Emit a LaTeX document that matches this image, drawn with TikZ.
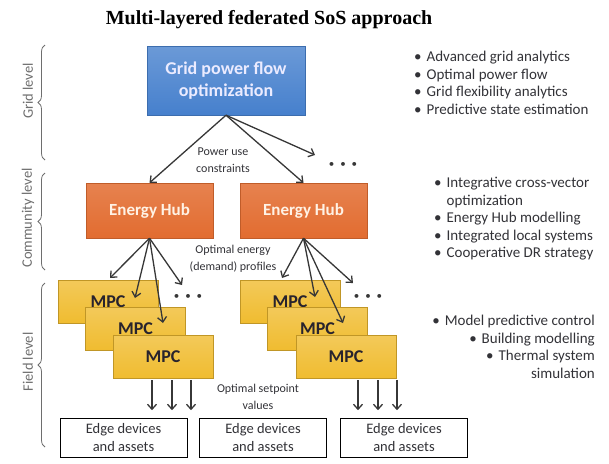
\documentclass[tikz,border=0pt]{standalone}
\usepackage{fontspec}
\setmainfont{Carlito}
\newfontfamily\titlefont{Liberation Serif}
\usepackage{xcolor}
\usepackage{tikz}
\usetikzlibrary{arrows.meta, positioning, decorations.pathreplacing, calc}
\definecolor{gblue}{RGB}{70, 128, 205}
\definecolor{horange}{RGB}{226, 108, 48}
\definecolor{mgold}{RGB}{240, 188, 48}
\definecolor{mtext}{RGB}{40, 35, 45}
\definecolor{tdark}{RGB}{50, 50, 55}
\definecolor{tgray}{RGB}{110, 110, 110}
\definecolor{agray}{RGB}{55, 55, 55}

\begin{document}
\begin{tikzpicture}[x=1pt, y=-1pt,
    gridbox/.style={draw=gblue!85!black, top color=gblue!80!white, bottom color=gblue,
      text=white!92!blue, font=\fontsize{18}{22}\selectfont\bfseries, align=center,
      minimum width=158pt, minimum height=69pt, inner sep=0pt},
    hubbox/.style={draw=horange!85!black, top color=horange!85!white, bottom color=horange,
      text=white!90!orange, font=\fontsize{17}{21}\selectfont\bfseries,
      minimum width=127pt, minimum height=55pt, inner sep=0pt},
    mpcbox/.style={draw=mgold!80!black, top color=mgold!80!white, bottom color=mgold,
      text=mtext, font=\fontsize{18}{21}\selectfont\bfseries,
      minimum width=100pt, minimum height=43pt, inner sep=0pt},
    edgebox/.style={draw=black, fill=white, text=tdark, font=\fontsize{14.5}{18}\selectfont,
      align=center, minimum width=127pt, minimum height=39pt, inner sep=0pt},
    lvl/.style={rotate=90, text=tgray, font=\fontsize{14.5}{16}\selectfont},
    lbl/.style={text=tdark, font=\fontsize{12}{17}\selectfont, align=center},
    notes/.style={text=tdark, font=\fontsize{15}{17.5}\selectfont, inner sep=0pt},
    dots/.style={text=agray, font=\fontsize{11}{11}\selectfont},
    arr/.style={-{Straight Barb[length=5pt, width=9pt]}, agray, line width=1.3pt},
    lvlbrace/.style={decorate, decoration={brace, amplitude=7pt}, tgray, line width=0.8pt}]
  \useasboundingbox (0,0) rectangle (609,463);
  % Title
  \node[font=\titlefont\fontsize{20}{24}\selectfont\bfseries] (title) at (269,20)
    {Multi-layered federated SoS approach};
  % Levels
  \draw[lvlbrace] (45,160) -- (45,45);
  \node[lvl] (lgrid) at (28,91) {Grid level};
  \draw[lvlbrace] (45,270) -- (45,173);
  \node[lvl] (lcomm) at (28,218) {Community level};
  \draw[lvlbrace] (45,447) -- (45,283);
  \node[lvl] (lfield) at (28,362) {Field level};
  % Grid optimization
  \node[gridbox] (grid) at (226,80.5) {Grid power flow\\optimization};
  % Energy hubs
  \node[hubbox] (hub1) at (149.5,210.5) {Energy Hub};
  \node[hubbox] (hub2) at (303.5,210.5) {Energy Hub};
  % MPC stacks
  \node[mpcbox] (m11) at (108,301.5) {MPC};
  \node[mpcbox] (m12) at (135.5,328.5) {MPC};
  \node[mpcbox] (m13) at (163,356.5) {MPC};
  \node[mpcbox] (m21) at (290,301.5) {MPC};
  \node[mpcbox] (m22) at (317.5,328.5) {MPC};
  \node[mpcbox] (m23) at (346,356.5) {MPC};
  % Edge devices
  \node[edgebox] (edge1) at (123.5,437.5) {Edge devices\\and assets};
  \node[edgebox] (edge2) at (263,437.5) {Edge devices\\and assets};
  \node[edgebox] (edge3) at (404,437.5) {Edge devices\\and assets};
  % Arrow ends
  \coordinate (g3) at (315,155);
  \coordinate (l1) at (110,278);
  \coordinate (l2) at (135,298);
  \coordinate (l3) at (163,323);
  \coordinate (l4) at (182,285);
  \coordinate (r1) at (282,278);
  \coordinate (r2) at (315,297);
  \coordinate (r3) at (343,323);
  \coordinate (r4) at (353,283);
  % Grid to hubs
  \draw[arr] (grid.south) -- (hub1.north);
  \draw[arr] (grid.south) -- (hub2.north);
  \draw[arr] (grid.south) -- (g3);
  % Hubs to MPCs
  \foreach \t in {l1,l2,l3,l4}
    \draw[arr] (hub1.south) -- (\t);
  \foreach \t in {r1,r2,r3,r4}
    \draw[arr] (hub2.south) -- (\t);
  % Setpoints
  \foreach \dx in {-11,9,28}
    \draw[arr] ($(m13.south)+(\dx,2)$) -- ($(m13.south)+(\dx,32)$);
  \foreach \dx in {12,32,51}
    \draw[arr] ($(m23.south)+(\dx,2)$) -- ($(m23.south)+(\dx,32)$);
  % More of the same
  \node[dots] (d1) at (343,165) {•\hspace{6pt}•\hspace{6pt}•};
  \node[dots] (d2) at (188,297) {•\hspace{6pt}•\hspace{6pt}•};
  \node[dots] (d3) at (368,297) {•\hspace{6pt}•\hspace{6pt}•};
  % Flow labels
  \node[lbl] (pwr) at (223,160) {Power use\\constraints};
  \node[lbl] (prof) at (233,259) {Optimal energy\\(demand) profiles};
  \node[lbl] (setp) at (258,397) {Optimal setpoint\\values};
  % Notes per level
  \node[notes, anchor=north west, align=left] (ngrid) at (414,51)
    {•\hspace{5pt}Advanced grid analytics\\•\hspace{5pt}Optimal power flow\\
     •\hspace{5pt}Grid flexibility analytics\\•\hspace{5pt}Predictive state estimation};
  \node[notes, anchor=north west, align=left] (ncomm) at (434,177)
    {•\hspace{5pt}Integrative cross-vector\\\phantom{•}\hspace{5pt}optimization\\
     •\hspace{5pt}Energy Hub modelling\\•\hspace{5pt}Integrated local systems\\
     •\hspace{5pt}Cooperative DR strategy};
  \node[notes, anchor=north east, align=right] (nfield) at (595,315)
    {•\hspace{5pt}Model predictive control\\•\hspace{5pt}Building modelling\\
     •\hspace{5pt}Thermal system\\simulation};
\end{tikzpicture}
\end{document}
